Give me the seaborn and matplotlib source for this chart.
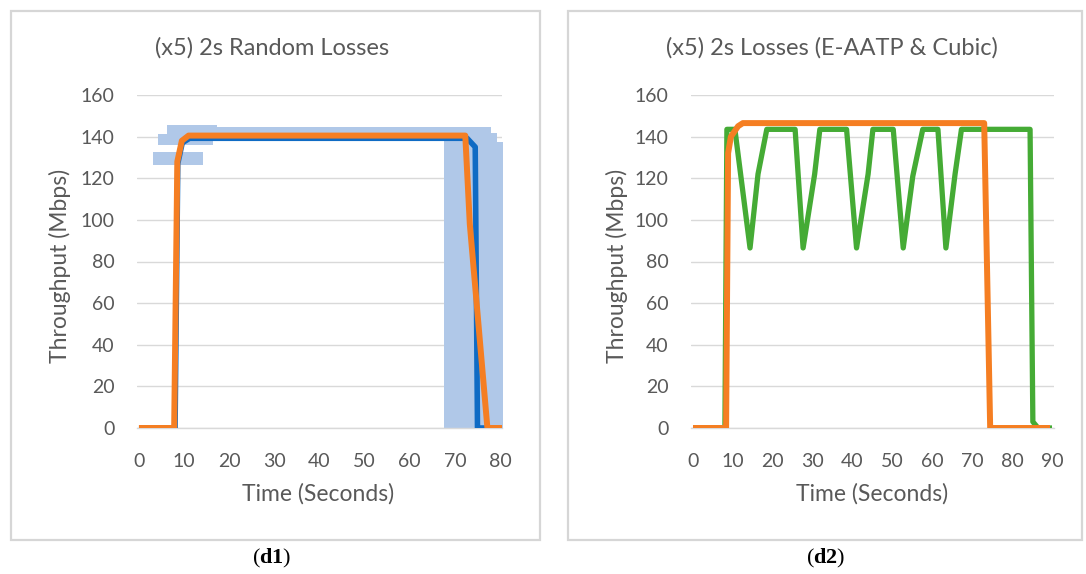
import matplotlib
matplotlib.use("Agg")
import matplotlib.pyplot as plt
import seaborn as sns
import pandas as pd
from matplotlib.patches import Rectangle

# ---------------- data ----------------
# Left panel: (x5) 2s Random Losses
left_orange_t = [0, 7.8, 8.5, 9.5, 11.0, 72.3, 73.3, 77.2, 80.7]
left_orange_v = [0, 0, 128, 138, 140.5, 140.5, 98, 0, 0]
left_blue_t = [0, 8.0, 8.6, 9.6, 11.2, 72.7, 74.5, 75.0, 80.0]
left_blue_v = [0, 0, 127, 137, 139.2, 139.2, 135, 0, 0]
# light-blue range band of the five runs
band_a_t = [3.1, 14.2]
band_a_lo = [126.5, 126.5]
band_a_hi = [132.7, 132.7]
band_b_t = [4.2, 6.2, 16.3, 17.3, 67.6, 78.0, 79.3, 80.7]
band_b_lo = [136, 136, 138, 138, 0, 0, 0, 0]
band_b_hi = [141.5, 145.5, 145.5, 144.5, 144.5, 141.8, 137.5, 137.5]

# Right panel: (x5) 2s Losses (E-AATP & Cubic)
right_green_t = [0, 8.0, 8.5, 10.5, 14.3, 16.3, 18.5, 25.6, 27.6, 30.5, 31.8,
                 38.5, 41.0, 43.9, 45.1, 50.2, 52.7, 55.1, 57.6, 61.4, 63.4,
                 65.7, 67.3, 84.5, 85.2, 86.5, 90.0]
right_green_v = [0, 0, 143.5, 143.5, 86.5, 122, 143.5, 143.5, 86.5, 122, 143.5,
                 143.5, 86.5, 122, 143.5, 143.5, 86.5, 121, 143.5, 143.5, 86.5,
                 122, 143.5, 143.5, 3, 0, 0]
right_orange_t = [0, 8.3, 8.8, 9.5, 11.3, 12.5, 73.0, 74.5, 89.5]
right_orange_v = [0, 0, 132, 140, 145, 146.5, 146.5, 0, 0]

y_ticks = [0, 20, 40, 60, 80, 100, 120, 140, 160]
left_x_ticks = [0, 10, 20, 30, 40, 50, 60, 70, 80]
right_x_ticks = [0, 10, 20, 30, 40, 50, 60, 70, 80, 90]

titles = ["(x5) 2s Random Losses", "(x5) 2s Losses (E-AATP & Cubic)"]
x_label = "Time (Seconds)"
y_label = "Throughput (Mbps)"
captions = ["d1", "d2"]

# ---------------- style ----------------
sns.set_theme(style="white")
plt.rcParams["font.family"] = ["Lato", "DejaVu Sans"]
plt.rcParams["mathtext.fontset"] = "custom"
plt.rcParams["mathtext.rm"] = "Liberation Serif"
plt.rcParams["mathtext.bf"] = "Liberation Serif:bold"

TXT = "#595959"
GRID = "#d9d9d9"
ORANGE = "#F57E22"
BLUE = "#0F6BC4"
LIGHT = "#B0C8E8"
GREEN = "#45AB35"

W, H = 1086, 574
fig = plt.figure(figsize=(W / 100, H / 100), dpi=100)
fig.patch.set_facecolor("white")

def fx(px):
    return px / W

def fy(py):
    return (H - py) / H

# panel frames
for x0, x1 in [(11, 540), (568, 1082)]:
    fig.patches.append(Rectangle((fx(x0), fy(540)), fx(x1) - fx(x0), fy(11) - fy(540),
                                 transform=fig.transFigure, fill=False,
                                 edgecolor="#d6d6d6", linewidth=1.6, zorder=0))

ax1 = fig.add_axes([fx(136.7), fy(428), fx(502.3) - fx(136.7), fy(95) - fy(428)])
ax2 = fig.add_axes([fx(691), fy(428), fx(1054) - fx(691), fy(95) - fy(428)])

def style_axes(ax, xticks, xlim):
    ax.set_xlim(*xlim)
    ax.set_ylim(0, 160)
    ax.set_yticks(y_ticks)
    ax.set_xticks(xticks)
    ax.set_yticklabels([str(v) for v in y_ticks])
    ax.set_xticklabels([str(v) for v in xticks])
    ax.yaxis.grid(True, color=GRID, linewidth=1.0)
    ax.xaxis.grid(False)
    ax.set_axisbelow(True)
    for s in ["top", "right", "left"]:
        ax.spines[s].set_visible(False)
    ax.spines["bottom"].set_color(GRID)
    ax.spines["bottom"].set_linewidth(1.0)
    ax.tick_params(axis="both", length=0, colors=TXT, labelsize=14)
    ax.tick_params(axis="y", pad=16)
    ax.tick_params(axis="x", pad=18)
    ax.set_xlabel("")
    ax.set_ylabel("")
    ax.set_facecolor("white")

# ---- left panel ----
ax1.fill_between(band_a_t, band_a_lo, band_a_hi, color=LIGHT, linewidth=0, zorder=1)
ax1.fill_between(band_b_t, band_b_lo, band_b_hi, step="post", color=LIGHT,
                 linewidth=0, zorder=1)
df_lb = pd.DataFrame({"t": left_blue_t, "v": left_blue_v})
df_lo = pd.DataFrame({"t": left_orange_t, "v": left_orange_v})
sns.lineplot(data=df_lb, x="t", y="v", ax=ax1, color=BLUE, linewidth=4.0,
             sort=False, estimator=None, zorder=3)
sns.lineplot(data=df_lo, x="t", y="v", ax=ax1, color=ORANGE, linewidth=4.3,
             sort=False, estimator=None, zorder=4)
style_axes(ax1, left_x_ticks, (-0.5, 80.5))

# ---- right panel ----
df_rg = pd.DataFrame({"t": right_green_t, "v": right_green_v})
df_ro = pd.DataFrame({"t": right_orange_t, "v": right_orange_v})
sns.lineplot(data=df_rg, x="t", y="v", ax=ax2, color=GREEN, linewidth=3.8,
             sort=False, estimator=None, zorder=3)
sns.lineplot(data=df_ro, x="t", y="v", ax=ax2, color=ORANGE, linewidth=4.3,
             sort=False, estimator=None, zorder=4)
style_axes(ax2, right_x_ticks, (-0.5, 90.5))

for ax in (ax1, ax2):
    for ln in ax.get_lines():
        ln.set_solid_joinstyle("round")
        ln.set_solid_capstyle("butt")

# titles, axis labels
fig.text(fx(272), fy(48), titles[0], ha="center", va="center", fontsize=17, color=TXT)
fig.text(fx(832), fy(48), titles[1], ha="center", va="center", fontsize=17, color=TXT)
for cx in (318, 872):
    fig.text(fx(cx), fy(494), x_label, ha="center", va="center", fontsize=16.5, color=TXT)
for cx in (60, 617):
    fig.text(fx(cx), fy(266), y_label, ha="center", va="center", rotation=90,
             fontsize=16.5, color=TXT)

# captions
for cx, c in zip((272, 826), captions):
    fig.text(fx(cx), fy(558), r"($\mathbf{" + c + "}$)", ha="center", va="center",
             fontsize=16, color="black", family="Liberation Serif")

fig.savefig("out.png", dpi=100, facecolor="white")
